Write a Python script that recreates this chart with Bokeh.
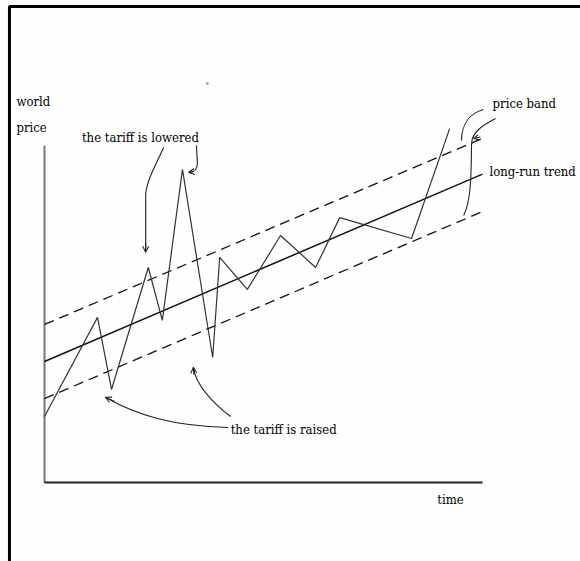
from bokeh.plotting import figure
from bokeh.models import Range1d, Arrow, OpenHead
from bokeh.core.properties import value
from bokeh.embed import file_html
from bokeh.resources import INLINE

# ---- data (chart units: time 0..10, world price 0..10) ----
time = [0.0, 1.21, 1.53, 2.37, 2.69, 3.15, 3.84, 4.00, 4.63, 5.39, 6.19, 6.74, 8.38, 9.25]
price = [1.96, 4.90, 2.76, 6.38, 4.81, 9.29, 3.71, 6.68, 5.73, 7.33, 6.38, 7.86, 7.24, 10.50]

trend_t = [0.0, 10.0]
trend_p = [3.59, 9.15]
band_upper_p = [4.69, 10.21]
band_lower_p = [2.49, 8.04]

axis_len = 10.0

labels = ["world", "price", "the tariff is lowered", "price band",
          "long-run trend", "the tariff is raised", "time"]

# ---- layout: pixel size of one unit and the origin on the canvas ----
W, H = 580, 561
X0, Y0 = 44, 482
SX, SY = 43.8, 33.7

p = figure(width=W, height=H, output_backend="svg", toolbar_location=None,
           x_range=Range1d(-X0 / SX, (W - X0) / SX),
           y_range=Range1d(-(H - Y0) / SY, Y0 / SY),
           x_axis_location=None, y_axis_location=None, min_border=0)
p.grid.visible = False
p.outline_line_color = None
p.background_fill_color = "#fefefe"
p.border_fill_color = "#fefefe"

# page frame (top and left rules)
p.line([-0.80, -0.80, 12.3], [-2.40, 14.125, 14.125], line_color="black", line_width=3)

# axes
p.line([0, 0], [0, axis_len], line_color="#777777", line_width=2)
p.line([0, axis_len], [0, 0], line_color="#222222", line_width=2)

# long-run trend and price band
p.line(trend_t, trend_p, line_color="#111111", line_width=1.5)
p.line(trend_t, band_upper_p, line_color="#111111", line_width=1.3, line_dash="10 6")
p.line(trend_t, band_lower_p, line_color="#111111", line_width=1.3, line_dash="10 6")

# world price path
p.line(time, price, line_color="#333333", line_width=1.2)

# stray speck
p.scatter([3.72], [11.84], size=2, color="#999999")

font = value("DejaVu Serif Condensed")
txt = dict(text_font=font, text_font_size="13px", text_color="black",
           text_baseline="middle")
p.text(x=[-0.64, -0.64], y=[11.31, 10.53], text=labels[0:2], text_align="left", **txt)
p.text(x=[2.19], y=[10.24], text=[labels[2]], text_align="center", **txt)
p.text(x=[10.23, 10.16], y=[11.25, 9.23], text=labels[3:5], text_align="left", **txt)
p.text(x=[4.25], y=[1.57], text=[labels[5]], text_align="left", **txt)
p.text(x=[9.27], y=[-0.50], text=[labels[6]], text_align="center", **txt)

# annotation leaders
ac = "#222222"
aw = 1.1
# "lowered" - left leader
p.bezier(x0=[2.72], y0=[9.94], x1=[2.31], y1=[8.52],
         cx0=[2.55], cy0=[9.45], cx1=[2.31], cy1=[8.9], line_color=ac, line_width=aw)
p.line([2.31, 2.31], [8.52, 6.86], line_color=ac, line_width=aw)
p.add_layout(Arrow(end=OpenHead(size=6, line_color=ac, line_width=aw),
                   x_start=2.31, y_start=7.1, x_end=2.31, y_end=6.83,
                   line_color=ac, line_width=aw))
# "lowered" - right leader
p.line([3.47, 3.49], [10.0, 9.47], line_color=ac, line_width=aw)
p.bezier(x0=[3.49], y0=[9.47], x1=[3.30], y1=[9.20],
         cx0=[3.49], cy0=[9.25], cx1=[3.40], cy1=[9.20], line_color=ac, line_width=aw)
p.add_layout(Arrow(end=OpenHead(size=6, line_color=ac, line_width=aw),
                   x_start=3.38, y_start=9.22, x_end=3.29, y_end=9.20,
                   line_color=ac, line_width=aw))
# "raised" - left leader
p.bezier(x0=[4.20], y0=[1.63], x1=[1.40], y1=[2.52],
         cx0=[2.9], cy0=[1.68], cx1=[2.1], cy1=[2.0], line_color=ac, line_width=aw)
p.add_layout(Arrow(end=OpenHead(size=6, line_color=ac, line_width=aw),
                   x_start=1.6, y_start=2.40, x_end=1.39, y_end=2.53,
                   line_color=ac, line_width=aw))
# "raised" - right leader
p.bezier(x0=[4.25], y0=[1.96], x1=[3.40], y1=[3.41],
         cx0=[3.85], cy0=[2.35], cx1=[3.45], cy1=[2.9], line_color=ac, line_width=aw)
p.add_layout(Arrow(end=OpenHead(size=6, line_color=ac, line_width=aw),
                   x_start=3.41, y_start=3.2, x_end=3.40, y_end=3.42,
                   line_color=ac, line_width=aw))
# "price band" leaders
p.bezier(x0=[10.02], y0=[11.07], x1=[9.52], y1=[10.15],
         cx0=[9.72], cy0=[10.95], cx1=[9.53], cy1=[10.7], line_color=ac, line_width=aw)
p.bezier(x0=[10.30], y0=[10.80], x1=[9.75], y1=[10.06],
         cx0=[10.0], cy0=[10.6], cx1=[9.76], cy1=[10.4], line_color=ac, line_width=aw)
p.bezier(x0=[9.75], y0=[10.06], x1=[9.57], y1=[7.92],
         cx0=[9.74], cy0=[9.2], cx1=[9.75], cy1=[8.4], line_color=ac, line_width=aw)
p.add_layout(Arrow(end=OpenHead(size=5, line_color=ac, line_width=aw),
                   x_start=9.95, y_start=10.25, x_end=9.80, y_end=10.21,
                   line_color=ac, line_width=aw))

open("out.html", "w").write(file_html(p, INLINE))
